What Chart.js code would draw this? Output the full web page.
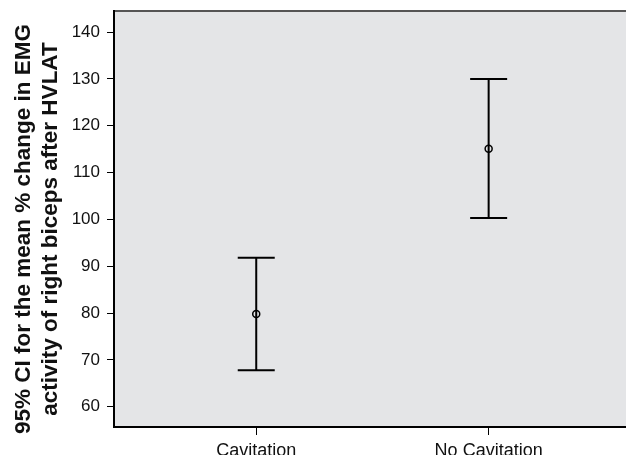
<!DOCTYPE html>
<html lang="en">
<head>
    <meta charset="utf-8">
    <title>95% CI EMG activity</title>
    <script src="https://cdn.jsdelivr.net/npm/chart.js"></script>
    <style>
        html, body { margin: 0; padding: 0; background: #fff; overflow: hidden; }
        #wrap { width: 626px; height: 455px; }
        canvas { display: block; }
    </style>
</head>
<body>
    <div id="wrap">
        <canvas id="ciChart" width="626" height="455"></canvas>
    </div>

    <script>
        // values
        const groups = ['Cavitation', 'No Cavitation'];
        const means = [79.8, 115.1];
        const lowerCI = [67.8, 100.3];
        const upperCI = [91.8, 130.0];
        const yTicks = [60, 70, 80, 90, 100, 110, 120, 130, 140];
        const yTitle = ['95% CI for the mean % change in EMG', 'activity of right biceps after HVLAT'];

        const fontFam = '"Liberation Sans", Arial, Helvetica, sans-serif';

        // gray plot area + top border
        const plotBg = {
            id: 'plotBg',
            beforeDraw(chart) {
                const { ctx, chartArea: a } = chart;
                ctx.save();
                ctx.fillStyle = '#e4e5e7';
                ctx.fillRect(a.left, a.top, a.right - a.left, a.bottom - a.top);
                ctx.strokeStyle = '#555';
                ctx.lineWidth = 2;
                ctx.beginPath();
                ctx.moveTo(a.left, a.top);
                ctx.lineTo(a.right, a.top);
                ctx.stroke();
                ctx.restore();
            }
        };

        // whiskers with caps
        const errorBars = {
            id: 'errorBars',
            beforeDatasetsDraw(chart) {
                const { ctx, scales: { x, y } } = chart;
                const capHalf = 18.5;
                ctx.save();
                ctx.strokeStyle = '#000';
                ctx.lineWidth = 2;
                groups.forEach((g, i) => {
                    const px = x.getPixelForValue(i);
                    const top = y.getPixelForValue(upperCI[i]);
                    const bot = y.getPixelForValue(lowerCI[i]);
                    ctx.beginPath();
                    ctx.moveTo(px, top);
                    ctx.lineTo(px, bot);
                    ctx.moveTo(px - capHalf, top);
                    ctx.lineTo(px + capHalf, top);
                    ctx.moveTo(px - capHalf, bot);
                    ctx.lineTo(px + capHalf, bot);
                    ctx.stroke();
                });
                ctx.restore();
            }
        };

        // two-line rotated y title
        const yTitlePlugin = {
            id: 'yTitlePlugin',
            afterDraw(chart) {
                const { ctx } = chart;
                ctx.save();
                ctx.fillStyle = '#111';
                ctx.font = 'bold 22.5px ' + fontFam;
                ctx.textAlign = 'center';
                ctx.textBaseline = 'middle';
                ctx.translate(0, 229);
                ctx.rotate(-Math.PI / 2);
                ctx.fillText(yTitle[0], 0, 24);
                ctx.fillText(yTitle[1], 0, 51);
                ctx.restore();
            }
        };

        const noPad = (s) => {
            s.paddingTop = 0;
            s.paddingBottom = 0;
            s.paddingLeft = 0;
            s.paddingRight = 0;
        };

        new Chart(document.getElementById('ciChart'), {
            type: 'scatter',
            data: {
                datasets: [{
                    label: 'Mean',
                    data: means.map((m, i) => ({ x: i, y: m })),
                    pointStyle: 'circle',
                    pointRadius: 3.5,
                    pointBorderWidth: 1.5,
                    pointBorderColor: '#000',
                    pointBackgroundColor: 'rgba(0,0,0,0)'
                }]
            },
            options: {
                responsive: false,
                animation: false,
                layout: { autoPadding: false, padding: { top: 11, left: 0, right: 0, bottom: 0 } },
                plugins: {
                    legend: { display: false },
                    tooltip: { enabled: false }
                },
                scales: {
                    x: {
                        type: 'linear',
                        min: -0.612,
                        max: 1.591,
                        afterFit: (s) => { s.height = 28; noPad(s); },
                        afterBuildTicks: (s) => { s.ticks = groups.map((g, i) => ({ value: i })); },
                        grid: { drawOnChartArea: false, drawTicks: true, tickLength: 8, color: '#000' },
                        border: { display: true, color: '#000', width: 2 },
                        ticks: {
                            autoSkip: false,
                            maxRotation: 0,
                            padding: 5,
                            color: '#111',
                            font: { family: fontFam, size: 18 },
                            callback: (v) => groups[v]
                        }
                    },
                    y: {
                        min: 55.66,
                        max: 144.5,
                        afterFit: (s) => { s.width = 114; noPad(s); },
                        afterBuildTicks: (s) => { s.ticks = yTicks.map(v => ({ value: v })); },
                        grid: { drawOnChartArea: false, drawTicks: true, tickLength: 7, color: '#000' },
                        border: { display: true, color: '#000', width: 2 },
                        ticks: {
                            padding: 7,
                            color: '#111',
                            font: { family: fontFam, size: 17 }
                        }
                    }
                }
            },
            plugins: [plotBg, errorBars, yTitlePlugin]
        });
    </script>
</body>
</html>
